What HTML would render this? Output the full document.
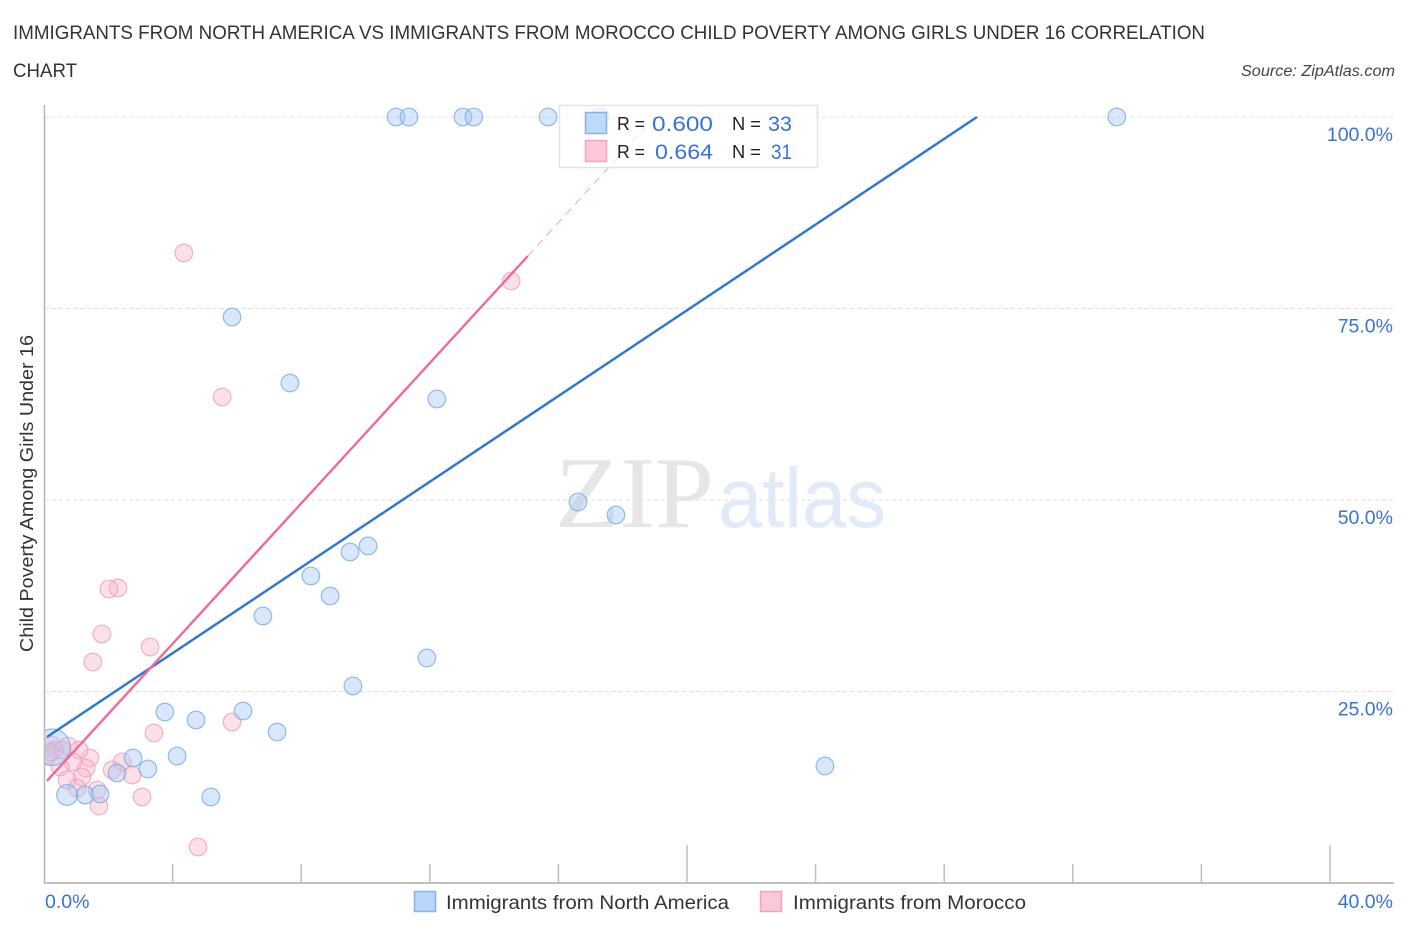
<!DOCTYPE html>
<html lang="en">
<head>
<meta charset="utf-8">
<title>Child Poverty Among Girls Under 16 Correlation Chart</title>
<style>
html,body{margin:0;padding:0;background:#fff;width:1406px;height:930px;overflow:hidden}
svg{display:block;font-family:"Liberation Sans",sans-serif}
</style>
</head>
<body>
<svg id="chart" width="1406" height="930" viewBox="0 0 1406 930" xmlns="http://www.w3.org/2000/svg">
  <defs>
    <clipPath id="plot-clip"><rect x="45" y="90" width="1350" height="793"/></clipPath>
  </defs>
  <text x="13" y="39" font-size="19.5" fill="#333" textLength="1192" lengthAdjust="spacingAndGlyphs">IMMIGRANTS FROM NORTH AMERICA VS IMMIGRANTS FROM MOROCCO CHILD POVERTY AMONG GIRLS UNDER 16 CORRELATION</text>
  <text x="13" y="77" font-size="19.5" fill="#333" textLength="64" lengthAdjust="spacingAndGlyphs">CHART</text>
  <text x="1241" y="76" font-size="15.5" font-style="italic" fill="#444" textLength="154" lengthAdjust="spacingAndGlyphs">Source: ZipAtlas.com</text>

  <g id="grid"></g>

  <g>
    <text x="555" y="527" font-family="'Liberation Serif',serif" font-size="102" fill="#e6e6e6" textLength="159" lengthAdjust="spacingAndGlyphs">ZIP</text>
    <text x="718" y="527" font-size="84" fill="#e0eaf8" textLength="168" lengthAdjust="spacingAndGlyphs">atlas</text>
  </g>

  <g id="axes"></g>
  <g id="points" clip-path="url(#plot-clip)"></g>
  <g id="trends"></g>
  <g id="ticklabels"></g>

  <text transform="translate(33,652) rotate(-90)" font-size="18.5" fill="#333" textLength="317" lengthAdjust="spacingAndGlyphs">Child Poverty Among Girls Under 16</text>

  <g>
    <rect x="559.5" y="105.5" width="258" height="62" fill="#fff" fill-opacity="0.72" stroke="#e3e3e3" stroke-width="1.5"/>
    <rect x="585.5" y="112.5" width="21" height="21" fill="#b9d5f8" fill-opacity="0.9" stroke="#86b2ea" stroke-width="1.5"/>
    <rect x="585.5" y="140.5" width="21" height="21" fill="#fbc8d9" stroke="#f2a3bd" stroke-width="1.5"/>
    <text x="617" y="130" font-size="18" fill="#222" textLength="28" lengthAdjust="spacingAndGlyphs">R =</text>
    <text x="652" y="131" font-size="21.5" fill="#3a72d4" textLength="61" lengthAdjust="spacingAndGlyphs">0.600</text>
    <text x="732" y="130" font-size="18" fill="#222" textLength="29" lengthAdjust="spacingAndGlyphs">N =</text>
    <text x="768" y="131" font-size="21.5" fill="#3a72d4" textLength="24" lengthAdjust="spacingAndGlyphs">33</text>
    <text x="617" y="158" font-size="18" fill="#222" textLength="28" lengthAdjust="spacingAndGlyphs">R =</text>
    <text x="655" y="159" font-size="21.5" fill="#3a72d4" textLength="58" lengthAdjust="spacingAndGlyphs">0.664</text>
    <text x="732" y="158" font-size="18" fill="#222" textLength="29" lengthAdjust="spacingAndGlyphs">N =</text>
    <text x="771" y="159" font-size="21.5" fill="#3a72d4" textLength="21" lengthAdjust="spacingAndGlyphs">31</text>
  </g>

  <g>
    <rect x="414.5" y="891.5" width="21" height="20" fill="#b9d5f8" stroke="#86b2ea" stroke-width="1.5"/>
    <text x="446" y="909" font-size="19.5" fill="#333" textLength="283" lengthAdjust="spacingAndGlyphs">Immigrants from North America</text>
    <rect x="760.5" y="891.5" width="21" height="20" fill="#fbc8d9" stroke="#f2a3bd" stroke-width="1.5"/>
    <text x="793" y="909" font-size="19.5" fill="#333" textLength="233" lengthAdjust="spacingAndGlyphs">Immigrants from Morocco</text>
  </g>
</svg>
<script>
const yTicks = [25, 50, 75, 100];
const yTickLabels = ["25.0%", "50.0%", "75.0%", "100.0%"];
const xTicks = [4, 8, 12, 16, 20, 24, 28, 32, 36, 40];
const xMajorTicks = [20, 40];
const xEndLabels = ["0.0%", "40.0%"];

const blueX = [10.95,11.35,13.03,13.37,15.68,17.29,33.37,5.85,7.65,12.22,16.61,17.79,10.08,9.52,8.30,8.90,6.81,11.91,9.61,3.76,4.73,6.19,7.25,4.14,2.77,3.23,2.27,24.29,5.19,0.72,1.28,1.74,0.25];
const blueY = [100,100,100,100,100,100,100,73.89,65.27,63.19,49.74,48.04,44.00,43.21,40.08,37.47,34.86,29.37,25.72,22.32,21.28,22.45,19.71,16.58,16.32,14.88,14.36,15.27,11.23,11.49,11.49,11.62,17.72];
const blueWeight = [1,1,1,1,1,1,1,1,1,1,1,1,1,1,1,1,1,1,1,1,1,1,1,1,1,1,1,1,1,1.4,1,1,4.3];

const pinkX = [4.35,14.53,5.54,2.30,2.02,1.80,3.30,1.52,5.85,3.42,4.79,3.05,1.71,2.74,2.43,2.12,1.43,1.31,1.09,0.75,0.90,0.50,1.18,0.72,1.03,1.65,0.25,0.34,0.12,0.56,0.19];
const pinkY = [82.25,78.59,63.45,38.51,38.38,32.51,30.81,28.85,21.02,19.58,4.70,11.23,10.05,14.10,15.80,14.75,16.32,14.99,17.36,17.89,15.80,15.14,13.84,13.45,12.40,12.14,18.02,17.36,16.71,17.36,17.10];
const pinkWeight = [1,1,1,1,1,1,1,1,1,1,1,1,1,1,1,1,1,1,1,1,1,1,1,1,1,1,1,1,1,1,1];

const blueTrendX = [0.09, 29.02];
const blueTrendY = [19.06, 100];
const pinkTrendX = [0.09, 15.05];
const pinkTrendY = [13.32, 81.85];
const pinkExtendX = [15.05, 19.0];
const pinkExtendY = [81.85, 100];

const NS = "http://www.w3.org/2000/svg";
const sx = v => 44 + v * 32.15;
const sy = v => 883 - v * 7.66;

function mk(parent, tag, attrs, content) {
  const el = document.createElementNS(NS, tag);
  for (const k in attrs) el.setAttribute(k, attrs[k]);
  if (content !== undefined) el.textContent = content;
  parent.appendChild(el);
  return el;
}

const grid = document.getElementById("grid");
yTicks.forEach(t => {
  const el = mk(grid, "line", {x1: 45, x2: 1395, y1: sy(t), y2: sy(t), stroke: "#e2e2e2", "stroke-width": 1, "stroke-dasharray": "4 3"});
  
  
});

const axes = document.getElementById("axes");
const yAxis = mk(axes, "line", {x1: 44.5, x2: 44.5, y1: 105, y2: 884, stroke: "#b5b5b5", "stroke-width": 1.5});


const xAxis = mk(axes, "line", {x1: 44, x2: 1394, y1: 883, y2: 883, stroke: "#c0c0c0", "stroke-width": 2});


xTicks.forEach(t => {
  const top = xMajorTicks.includes(t) ? 845 : 864;
  const el = mk(axes, "line", {x1: sx(t), x2: sx(t), y1: top, y2: 883, stroke: "#bdbdbd", "stroke-width": 1.5});
  
  
});

const labels = document.getElementById("ticklabels");
yTicks.forEach((t, i) => {
  const el = mk(labels, "text", {x: 1393, y: sy(t) + 24, "text-anchor": "end", "font-size": 19.5, fill: "#3a72d4"}, yTickLabels[i]);
  
  
});
const x0Label = mk(labels, "text", {x: 45, y: 908, "font-size": 19.5, fill: "#3a72d4"}, xEndLabels[0]);


const x1Label = mk(labels, "text", {x: 1393, y: 908, "text-anchor": "end", "font-size": 19.5, fill: "#3a72d4"}, xEndLabels[1]);



const points = document.getElementById("points");
pinkX.forEach((x, i) => {
  const el = mk(points, "circle", {cx: sx(x), cy: sy(pinkY[i]), r: 8.8 * Math.sqrt(pinkWeight[i]), fill: "#f9b4cb", "fill-opacity": 0.42, stroke: "#ee9ab6", "stroke-opacity": 0.75, "stroke-width": 1.2});
  
  
});
blueX.forEach((x, i) => {
  const el = mk(points, "circle", {cx: sx(x), cy: sy(blueY[i]), r: 8.8 * Math.sqrt(blueWeight[i]), fill: "#a9ccf4", "fill-opacity": 0.45, stroke: "#7ba7e4", "stroke-opacity": 0.8, "stroke-width": 1.2});
  
  
});

const trends = document.getElementById("trends");
const blueTrend = mk(trends, "line", {x1: sx(blueTrendX[0]), y1: sy(blueTrendY[0]), x2: sx(blueTrendX[1]), y2: sy(blueTrendY[1]), stroke: "#2b74d6", "stroke-width": 2.4});


const pinkTrend = mk(trends, "line", {x1: sx(pinkTrendX[0]), y1: sy(pinkTrendY[0]), x2: sx(pinkTrendX[1]), y2: sy(pinkTrendY[1]), stroke: "#ea6c97", "stroke-width": 2.4});


const pinkExtend = mk(trends, "line", {x1: sx(pinkExtendX[0]), y1: sy(pinkExtendY[0]), x2: sx(pinkExtendX[1]), y2: sy(pinkExtendY[1]), stroke: "#f0a6bf", "stroke-width": 1, "stroke-dasharray": "8 6"});


</script>
</body>
</html>
